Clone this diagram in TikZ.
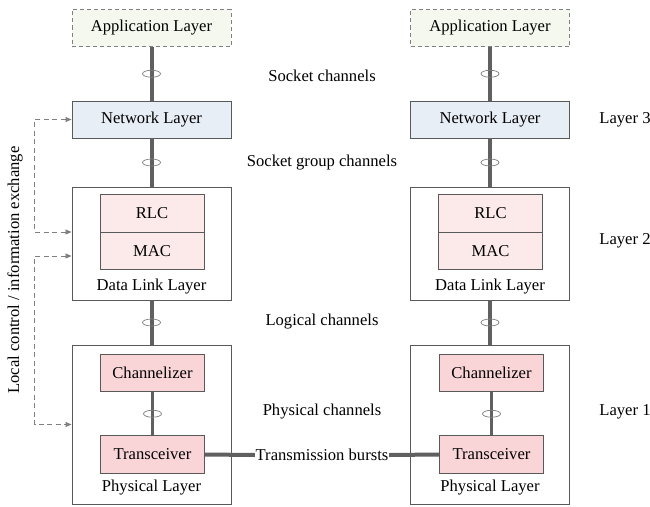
\documentclass[tikz,border=0pt]{standalone}
\usepackage{fontspec}
\setmainfont{Liberation Serif}
\usetikzlibrary{arrows.meta,shapes.geometric}
\definecolor{appfill}{HTML}{F5F8EE}
\definecolor{netfill}{HTML}{E8EEF6}
\definecolor{dllfill}{HTML}{FCEAEB}
\definecolor{phyfill}{HTML}{F9D5D8}
\definecolor{linegray}{HTML}{606060}
\definecolor{boxgray}{HTML}{595959}

\begin{document}
\begin{tikzpicture}[x=1pt,y=-1pt,
                    font=\fontsize{16.6}{19}\selectfont,
                    layerbox/.style={draw=boxgray,line width=0.9pt,minimum width=159pt,minimum height=37pt,inner sep=0pt},
                    appbox/.style={layerbox,dashed,draw=gray,dash pattern=on 4pt off 3pt,fill=appfill},
                    netbox/.style={layerbox,fill=netfill},
                    outerbox/.style={layerbox,fill=white},
                    subbox/.style={draw=boxgray,line width=0.7pt,minimum width=104pt,minimum height=37.5pt,inner sep=0pt},
                    chan/.style={draw=linegray,line width=4pt},
                    ring/.style={ellipse,draw=gray,line width=0.7pt,minimum width=18pt,minimum height=7pt,inner sep=0pt},
                    ctl/.style={draw=gray,line width=0.8pt,dash pattern=on 5pt off 3.5pt,{Triangle[length=6pt,width=5pt]}-{Triangle[length=6pt,width=5pt]}}]
    \useasboundingbox (0,0) rectangle (650,506);
    % left stack
    \node[appbox] (app1) at (151.5,28) {Application Layer};
    \node[netbox] (net1) at (151.5,119.5) {Network Layer};
    \node[outerbox,minimum height=113pt] (dll1) at (151.5,243.5) {};
    \node[subbox,fill=dllfill] (rlc1) at (152,213.5) {RLC};
    \node[subbox,fill=dllfill] (mac1) at (152,251) {MAC};
    \node (dlltxt1) at (151.5,287) {Data Link Layer};
    \node[outerbox,minimum height=159pt] (phy1) at (151.5,424.5) {};
    \node[subbox,fill=phyfill] (chz1) at (152.5,373) {Channelizer};
    \node[subbox,fill=phyfill] (trx1) at (152.5,454.5) {Transceiver};
    \node (phytxt1) at (151.5,488) {Physical Layer};
    % right stack
    \node[appbox] (app2) at (490,28) {Application Layer};
    \node[netbox] (net2) at (490,119.5) {Network Layer};
    \node[outerbox,minimum height=113pt] (dll2) at (490,243.5) {};
    \node[subbox,fill=dllfill] (rlc2) at (490.5,213.5) {RLC};
    \node[subbox,fill=dllfill] (mac2) at (490.5,251) {MAC};
    \node (dlltxt2) at (490,287) {Data Link Layer};
    \node[outerbox,minimum height=159pt] (phy2) at (490,424.5) {};
    \node[subbox,fill=phyfill] (chz2) at (491.5,373) {Channelizer};
    \node[subbox,fill=phyfill] (trx2) at (491.5,454.5) {Transceiver};
    \node (phytxt2) at (490,488) {Physical Layer};
    % channels
    \foreach \s in {1,2}{
        \draw[chan] (app\s) -- node[ring]{} (net\s);
        \draw[chan] (net\s) -- node[ring]{} (dll\s);
        \draw[chan] (dll\s) -- node[ring]{} (phy\s);
        \draw[chan,line width=3pt] (chz\s) -- node[ring]{} (trx\s);
    }
    \node (sock) at (322,76) {Socket channels};
    \node (sockgrp) at (322,163) {Socket group channels};
    \node (logic) at (322,322) {Logical channels};
    \node (phych) at (322,412) {Physical channels};
    \node[inner sep=0.5pt] (burst) at (322,455) {Transmission bursts};
    \draw[chan] (trx1.east) -- (burst.west);
    \draw[chan] (burst.east) -- (trx2.west);
    % layer numbers
    \node (l3) at (625,120) {Layer 3};
    \node (l2) at (625,241) {Layer 2};
    \node (l1) at (625,412) {Layer 1};
    % local control
    \draw[ctl] (net1.west) -- ++(-37,0) |- ([yshift=11.5pt]dll1.west);
    \draw[ctl] ([yshift=-12.5pt]dll1.west) -- ++(-37,0) |- (phy1.west);
    \node[rotate=90] (ctltxt) at (15,270) {Local control / information exchange};
\end{tikzpicture}
\end{document}
